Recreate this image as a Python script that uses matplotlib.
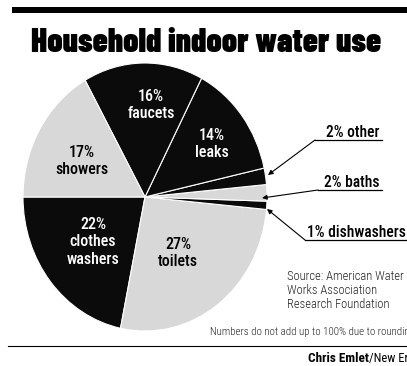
import matplotlib
matplotlib.use("Agg")
import matplotlib.pyplot as plt

W, H = 407, 366

# slices, counter-clockwise from the 9 o'clock position
names = ["clothes\nwashers", "toilets", "dishwashers", "baths", "other", "leaks", "faucets", "showers"]
shares = [22, 27, 1, 2, 2, 14, 16, 17]
dark = [True, False, True, False, True, True, True, False]

# label positions (pixels) for the slices labelled inside the pie
inside = {"clothes\nwashers": (93, 242), "toilets": (178, 253), "leaks": (212, 144),
          "faucets": (151, 105), "showers": (82, 161)}
# callouts for the thin slices: underline x0, x1, underline y, arrow tip
callouts = {"other": (315, 382, 140, (268, 175)),
            "baths": (318, 382, 190, (262, 198)),
            "dishwashers": (305, 407, 240, (267, 209))}

source = "Source: American Water\nWorks Association\nResearch Foundation"
note = "Numbers do not add up to 100% due to rounding"

cond = ["Roboto Condensed", "DejaVu Sans"]
heavy = ["Barlow Condensed", "DejaVu Sans"]
BLACK = "#0b0b0b"
GREY = "#d8d8d8"

fig = plt.figure(figsize=(W / 100, H / 100), dpi=100)
fig.patch.set_facecolor("white")

# pie is slightly taller than wide
pax = fig.add_axes([23 / W, 1 - 331 / H, 244 / W, 268 / H])
colors = [BLACK if d else GREY for d in dark]
wedges, _ = pax.pie(shares, colors=colors, startangle=180, counterclock=True,
                    wedgeprops=dict(edgecolor="white", linewidth=0.8))
pax.set_aspect("auto")
pax.set_xlim(-1, 1)
pax.set_ylim(-1, 1)
pax.axis("off")

# overlay in pixel coordinates for text and leader lines
ax = fig.add_axes([0, 0, 1, 1], facecolor="none")
ax.set_xlim(0, W)
ax.set_ylim(H, 0)
ax.axis("off")

# heavy bar across the top
ax.add_patch(plt.Rectangle((12, 7), W - 12, 6, color="black", lw=0))
ax.text(206, 52, "Household indoor water use", ha="center", va="baseline",
        fontsize=24, fontweight=900, family=heavy, color="black")

for name, v, d in zip(names, shares, dark):
    if name in inside:
        x, y = inside[name]
        ax.text(x, y, f"{v}%\n{name}", ha="center", va="center", fontsize=11.5,
                fontweight=500, family=cond, color="white" if d else "black",
                linespacing=1.2)
    else:
        x0, x1, y, tip = callouts[name]
        left = name == "dishwashers"
        ax.text(x0 + 2 if left else x1 - 2, y - 3, f"{v}% {name}",
                ha="left" if left else "right", va="baseline",
                fontsize=11.2, fontweight=500, family=cond, color="black")
        ax.plot([x0, x1], [y, y], color="black", lw=0.9)
        ax.annotate("", xy=tip, xytext=(x0, y),
                    arrowprops=dict(arrowstyle="-|>", lw=0.8, color="black",
                                    mutation_scale=7, shrinkA=0, shrinkB=0))

ax.text(287, 270, source, ha="left", va="top", fontsize=9, family=cond,
        fontweight=300, color="#222222", linespacing=1.1)
ax.text(210, 335, note, ha="left", va="baseline", fontsize=7.8, family=cond,
        fontweight=300, color="#222222")

ax.plot([8, W], [346, 346], color="black", lw=0.8)
credit = ax.text(308, 362, "Chris Emlet", ha="left", va="baseline", fontsize=9.5,
                 fontweight="bold", family=cond, color="black")
ax.annotate("/New Era", xy=(1, 0), xycoords=credit, ha="left", va="bottom",
            fontsize=9, family=cond, color="black")

fig.savefig("out.png", dpi=100)
